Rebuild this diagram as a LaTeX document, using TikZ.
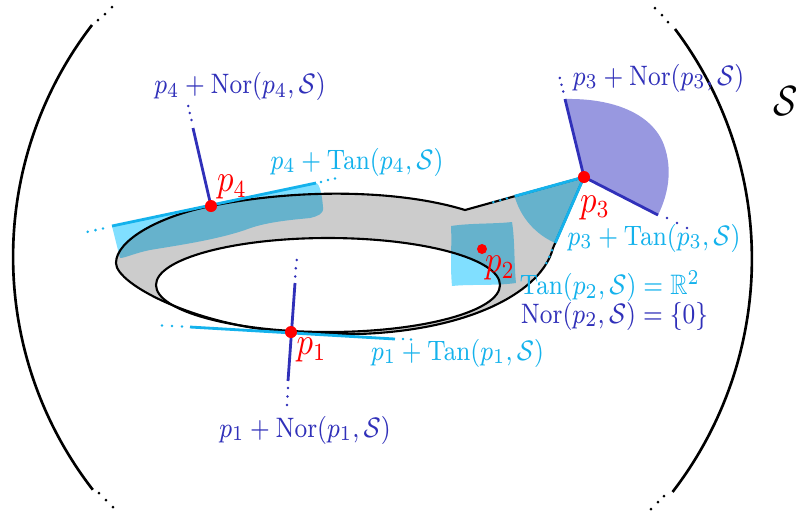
\documentclass[tikz,border=0pt]{standalone}
\usepackage{amsmath,amssymb,graphicx}
\definecolor{tancol}{RGB}{20,178,236}
\definecolor{norcol}{RGB}{48,48,185}
\definecolor{lightb}{RGB}{128,223,255}
\definecolor{conecol}{RGB}{152,152,224}
\definecolor{ringgray}{RGB}{204,204,204}
\definecolor{ptred}{RGB}{255,0,0}
\newcommand{\NorOp}{\operatorname{Nor}}
\newcommand{\TanOp}{\operatorname{Tan}}
\newcommand{\sqz}[1]{\scalebox{0.85}[1]{#1}}
\begin{document}
\begin{tikzpicture}[x=0.01cm,y=-0.01cm,
  lab/.style={inner sep=0pt, font=\fontsize{8}{9.6}\selectfont},
  tanlab/.style={lab, text=tancol},
  norlab/.style={lab, text=norcol},
  ptlab/.style={inner sep=0pt, text=ptred, font=\fontsize{10.5}{12}\selectfont},
  outline/.style={draw=black, line width=0.6pt},
  paren/.style={draw=black, line width=0.75pt},
  tanline/.style={draw=tancol, line width=0.8pt},
  norline/.style={draw=norcol, line width=0.8pt},
  patch/.style={fill=lightb},
  ptdot/.style={fill=ptred},
]
\useasboundingbox (0,0) rectangle (799,514);
% key points
\coordinate (p1) at (291,332);
\coordinate (p2) at (482,249);
\coordinate (p3) at (584,177);
\coordinate (p4) at (211,206);
\coordinate (n4) at (193,128);
\coordinate (n1a) at (295,283);
\coordinate (n1b) at (288,381);
\coordinate (n3a) at (565,99);
\coordinate (n3b) at (658,215);
\coordinate (t4a) at (112,226);
\coordinate (t4b) at (316,183);
\coordinate (t1a) at (190,327);
\coordinate (t1b) at (395,339);
\coordinate (t3a) at (514.6,196.2);
\coordinate (t3b) at (555.2,243);

% big parentheses
\draw[paren] (92,25) arc[start angle=217.6, end angle=142.2, radius=380];
\draw[paren] (675,29) arc[start angle=-37.0, end angle=37.6, radius=382];
\foreach \q in {(98,20),(105,14),(112,7),(99,493),(106,500),(113,507),(668,22),(662,15),(655,8),(664,496),(658,502),(651,509)}
  \fill[black] \q circle (1.5);

% gray set
\fill[ringgray] (p1) .. controls (200,327) and (116,285) .. (116,263)
  .. controls (116,240) and (160,216) .. (p4)
  .. controls (300,188) and (400,190) .. (465,210)
  -- (p3) -- (553,248)
  .. controls (540,300) and (440,345) .. (p1) -- cycle;
\fill[white] (328,285) ellipse [x radius=172, y radius=47];

% normal cone at p3
\fill[conecol] (p3) -- (n3a) .. controls (612,98) and (652,113) .. (664,145)
  .. controls (673,170) and (668,195) .. (n3b) -- cycle;

% tangent patches
\begin{scope}[blend mode=multiply]
\fill[patch] (t4a) -- (t4b) .. controls (320,184) and (322,195) .. (323,207)
  .. controls (324,214) and (318,216) .. (310,218)
  .. controls (290,220) and (265,222) .. (245,230)
  .. controls (215,240) and (180,245) .. (150,250)
  .. controls (135,253) and (125,258) .. (120,258) -- cycle;
\fill[patch] (451,226) .. controls (470,223) and (495,224) .. (512,222)
  .. controls (515,240) and (514,265) .. (516,283)
  .. controls (495,286) and (470,284) .. (452,286)
  .. controls (450,265) and (452,245) .. (451,226) -- cycle;
\fill[patch] (p3) -- (t3a) arc[start angle=164.5, end angle=113.6, radius=72] -- cycle;
\end{scope}

% outlines
\draw[outline] (p1) .. controls (200,327) and (116,285) .. (116,263)
  .. controls (116,240) and (160,216) .. (p4)
  .. controls (300,188) and (400,190) .. (465,210)
  -- (p3) -- (553,248)
  .. controls (540,300) and (440,345) .. (p1) -- cycle;
\draw[outline] (328,285) ellipse [x radius=172, y radius=47];

% tangent lines
\draw[tanline] (t4a) -- (t4b);
\draw[tanline] (t1a) -- (t1b);
\draw[tanline] (t3a) -- (p3) -- (t3b);
\foreach \q in {(103,228.5),(95.5,230.1),(87.7,231.8),(321,182),(328,180),(335,178.5),
  (182,326.5),(172,326),(162,325.5),(403,339),(411,339.5),
  (506.9,198.4),(500.2,200.2),(493.4,202.1),(552,250.3),(549.2,256.7),(546.4,263.1)}
  \fill[tancol] \q circle (1.4);

% normal lines
\draw[norline] (p4) -- (n4);
\draw[norline] (n1a) -- (n1b);
\draw[norline] (n3a) -- (p3) -- (n3b);
\foreach \q in {(191.5,120),(189.8,113),(188.2,106),(296.7,260),(295.8,268.3),(295.2,276.5),
  (288,388),(287.5,396.5),(287,405),(563.2,91.5),(561.5,84.7),(559.8,77.9),
  (667,218),(677,223),(687,228)}
  \fill[norcol] \q circle (1.4);

% points
\fill[ptdot] (p1) circle (6);
\fill[ptdot] (p2) circle (5);
\fill[ptdot] (p3) circle (6);
\fill[ptdot] (p4) circle (6);

% labels
\node[ptlab] (lp4) at (232,187) {\sqz{$p_4$}};
\node[ptlab] (lp1) at (311.5,350) {\sqz{$p_1$}};
\node[ptlab] (lp3) at (595,207.5) {\sqz{$p_3$}};
\node[ptlab] (lp2) at (500,268) {\sqz{$p_2$}};
\node[norlab] (l4n) at (240,86.5) {\sqz{$p_4 + \NorOp(p_4,\mathcal{S})$}};
\node[tanlab] (l4t) at (357,162) {\sqz{$p_4 + \TanOp(p_4,\mathcal{S})$}};
\node[norlab] (l3n) at (658.5,78) {\sqz{$p_3 + \NorOp(p_3,\mathcal{S})$}};
\node[tanlab] (l3t) at (654,238) {\sqz{$p_3 + \TanOp(p_3,\mathcal{S})$}};
\node[tanlab] (l2t) at (610,286.5) {\sqz{$\TanOp(p_2,\mathcal{S}) = \mathbb{R}^2$}};
\node[norlab] (l2n) at (614.5,316) {\sqz{$\NorOp(p_2,\mathcal{S}) = \{0\}$}};
\node[tanlab] (l1t) at (457.5,353) {\sqz{$p_1 + \TanOp(p_1,\mathcal{S})$}};
\node[norlab] (l1n) at (305,430) {\sqz{$p_1 + \NorOp(p_1,\mathcal{S})$}};
\node[inner sep=0pt, font=\fontsize{12}{14}\selectfont] (lS) at (786,101) {\sqz{$\mathcal{S}$}};
\end{tikzpicture}
\end{document}
